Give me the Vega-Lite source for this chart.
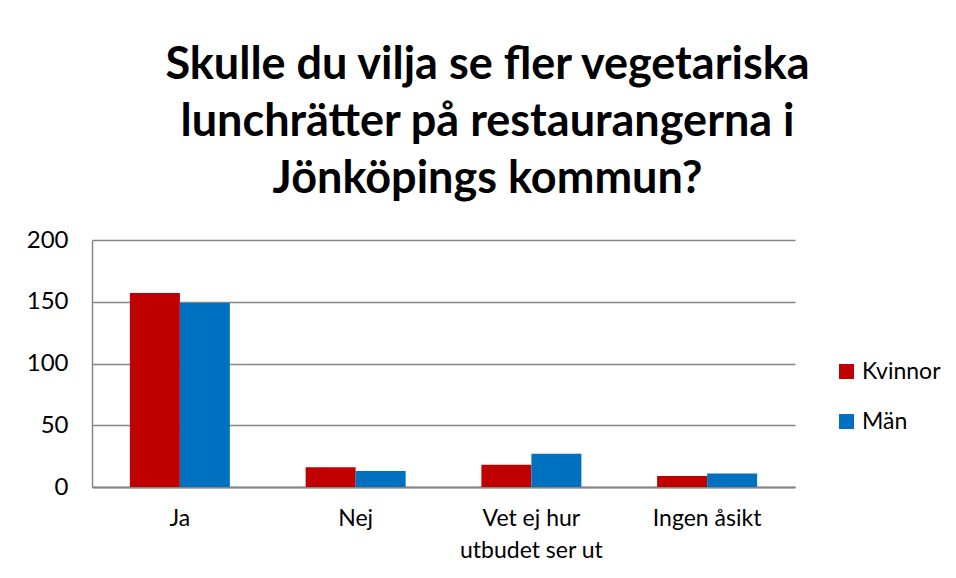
{
  "$schema": "https://vega.github.io/schema/vega-lite/v6.json",
  "autosize": {"type": "none"},
  "width": 703,
  "height": 247,
  "padding": {"left": 92, "top": 240, "right": 161, "bottom": 91},
  "background": "white",
  "title": {
    "text": ["Skulle du vilja se fler vegetariska", "lunchrätter på restaurangerna i", "Jönköpings kommun?"],
    "font": "Lato",
    "fontSize": 45,
    "fontWeight": "bold",
    "color": "#000000",
    "lineHeight": 57,
    "anchor": "middle",
    "frame": "group",
    "dx": 44,
    "offset": 26
  },
  "data": {
    "values": [
      {"svar": "Ja", "kon": "Kvinnor", "antal": 157},
      {"svar": "Ja", "kon": "Män", "antal": 149},
      {"svar": "Nej", "kon": "Kvinnor", "antal": 16},
      {"svar": "Nej", "kon": "Män", "antal": 13},
      {"svar": "Vet ej hur utbudet ser ut", "kon": "Kvinnor", "antal": 18},
      {"svar": "Vet ej hur utbudet ser ut", "kon": "Män", "antal": 27},
      {"svar": "Ingen åsikt", "kon": "Kvinnor", "antal": 9},
      {"svar": "Ingen åsikt", "kon": "Män", "antal": 11}
    ]
  },
  "mark": {"type": "bar"},
  "encoding": {
    "x": {
      "field": "svar",
      "type": "nominal",
      "sort": null,
      "title": null,
      "scale": {"paddingInner": 0.431, "paddingOuter": 0.2155},
      "axis": {
        "labelAngle": 0,
        "labelFont": "Lato",
        "labelFontSize": 23,
        "labelColor": "#000000",
        "labelPadding": 20,
        "labelLineHeight": 32,
        "ticks": false,
        "domainColor": "#868686",
        "domainWidth": 2,
        "labelExpr": "datum.label == 'Vet ej hur utbudet ser ut' ? ['Vet ej hur', 'utbudet ser ut'] : datum.label"
      }
    },
    "xOffset": {"field": "kon", "type": "nominal", "sort": ["Kvinnor", "Män"]},
    "y": {
      "field": "antal",
      "type": "quantitative",
      "title": null,
      "scale": {"domain": [0, 200]},
      "axis": {
        "values": [0, 50, 100, 150, 200],
        "labelFont": "Lato",
        "labelFontSize": 24,
        "labelColor": "#000000",
        "labelPadding": 24,
        "ticks": false,
        "grid": true,
        "gridColor": "#868686",
        "gridWidth": 1.5,
        "domainColor": "#868686",
        "domainWidth": 1.5
      }
    },
    "color": {
      "field": "kon",
      "type": "nominal",
      "sort": ["Kvinnor", "Män"],
      "scale": {"domain": ["Kvinnor", "Män"], "range": ["#C00000", "#0070C0"]},
      "legend": {
        "title": null,
        "orient": "none",
        "legendX": 743,
        "legendY": 120,
        "symbolType": "square",
        "symbolSize": 225,
        "symbolStrokeWidth": 0,
        "symbolOpacity": 1,
        "labelFont": "Lato",
        "labelFontSize": 23,
        "labelColor": "#000000",
        "labelOffset": 4,
        "rowPadding": 26
      }
    }
  },
  "config": {"view": {"stroke": null}}
}
